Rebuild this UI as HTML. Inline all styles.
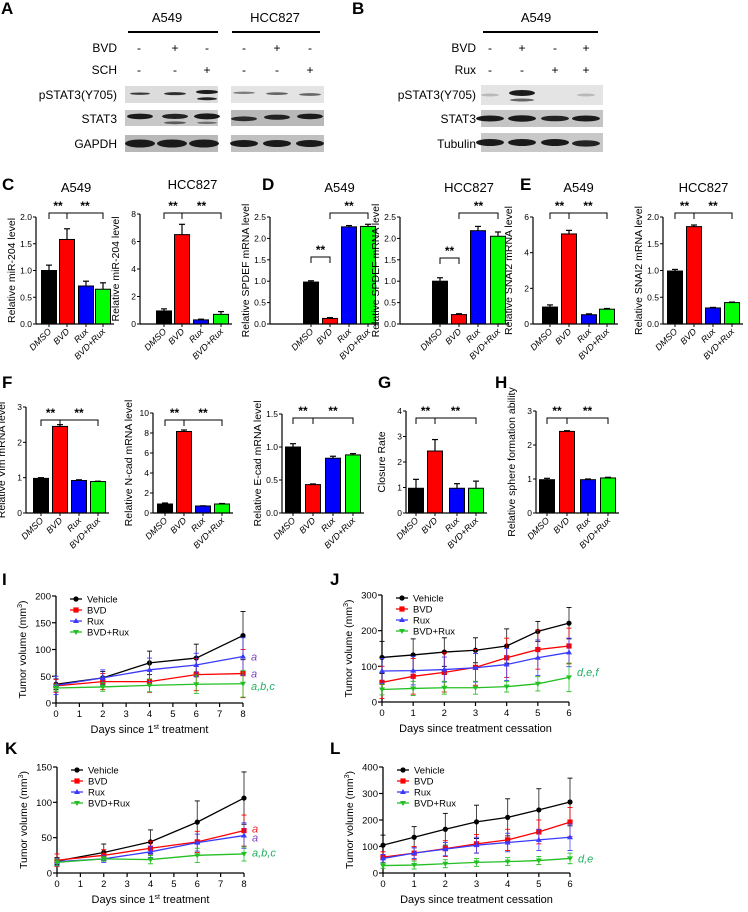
<!DOCTYPE html>
<html><head><meta charset="utf-8">
<style>
html,body{margin:0;padding:0;background:#fff;}
svg{display:block;font-family:"Liberation Sans",Arial,sans-serif;}
</style></head>
<body>
<svg id="fig" width="748" height="912" viewBox="0 0 748 912" xmlns="http://www.w3.org/2000/svg"></svg>
<script>
// ---------- BAR CHART DATA ----------
const barCats = ["DMSO","BVD","Rux","BVD+Rux"];
const c1Vals = [1.0,1.58,0.71,0.65];   const c1Err = [0.1,0.2,0.09,0.12];
const c2Vals = [0.95,6.5,0.3,0.7];     const c2Err = [0.15,0.75,0.05,0.2];
const d1Vals = [0.98,0.13,2.27,2.28];  const d1Err = [0.03,0.02,0.03,0.05];
const d2Vals = [1.0,0.22,2.18,2.05];   const d2Err = [0.08,0.02,0.1,0.1];
const e1Vals = [0.95,5.05,0.52,0.83];  const e1Err = [0.12,0.2,0.05,0.04];
const e2Vals = [0.99,1.82,0.3,0.4];    const e2Err = [0.03,0.03,0.01,0.01];
const f1Vals = [0.98,2.45,0.92,0.89];  const f1Err = [0.02,0.05,0.02,0.01];
const f2Vals = [0.9,8.15,0.7,0.9];     const f2Err = [0.1,0.15,0.02,0.05];
const f3Vals = [1.0,0.43,0.83,0.88];   const f3Err = [0.05,0.01,0.03,0.02];
const gVals = [0.97,2.43,0.97,0.97];   const gErr = [0.35,0.45,0.18,0.28];
const hVals = [0.98,2.4,0.98,1.03];    const hErr = [0.04,0.02,0.02,0.02];
const c1Ticks=["0.0","0.5","1.0","1.5","2.0"], c2Ticks=["0","2","4","6","8"];
const dTicks=["0.0","0.5","1.0","1.5","2.0","2.5"], e1Ticks=["0","2","4","6"], e2Ticks=["0.0","0.5","1.0","1.5","2.0"];
const f1Ticks=["0","1","2","3"], f2Ticks=["0","2","4","6","8","10"], f3Ticks=["0.0","0.5","1.0","1.5"], gTicks=["0","1","2","3","4"], hTicks=["0","1","2","3"];
// ---------- LINE CHART DATA ----------
const seriesNames = ["Vehicle","BVD","Rux","BVD+Rux"];
const daysIK = [0,2,4,6,8];
const daysJL = [0,1,2,3,4,5,6];
const iVeh=[35,47,75,84,126], iVehE=[10,12,22,26,45];
const iBvd=[32,40,40,53,55],  iBvdE=[12,15,20,30,45];
const iRux=[33,47,62,71,87],  iRuxE=[17,15,22,22,35];
const iCom=[28,30,33,35,36],  iComE=[6,8,12,17,25];
const jVeh=[125,132,140,145,157,198,221], jVehE=[45,45,40,35,48,28,44];
const jBvd=[55,72,83,97,124,147,157],     jBvdE=[45,50,55,50,55,55,50];
const jRux=[87,88,91,96,105,124,139],     jRuxE=[35,40,35,40,45,50,40];
const jCom=[35,38,40,40,43,51,69],        jComE=[15,20,18,18,15,20,40];
const kVeh=[17,29,44,72,106], kVehE=[5,12,17,30,37];
const kBvd=[18,25,35,44,60],  kBvdE=[9,8,10,15,22];
const kRux=[16,20,30,43,53],  kRuxE=[5,5,8,12,18];
const kCom=[15,20,19,25,27],  kComE=[5,3,6,10,10];
const lVeh=[105,135,165,193,210,238,268], lVehE=[38,40,60,63,70,80,90];
const lBvd=[60,75,92,110,125,155,192],    lBvdE=[20,25,30,35,40,45,55];
const lRux=[55,75,90,105,115,125,135],    lRuxE=[15,20,25,30,35,40,50];
const lCom=[28,30,35,40,43,47,55],        lComE=[10,15,15,15,15,15,20];
const ikTicks=["0","1","2","3","4","5","6","7","8"];
const jlTicks=["0","1","2","3","4","5","6"];
const iYTicks=["0","50","100","150","200"], jYTicks=["0","100","200","300"];
const kYTicks=["0","50","100","150"], lYTicks=["0","100","200","300","400"];

const NS="http://www.w3.org/2000/svg";
const svg=document.getElementById('fig');
function mk(tag,attrs,parent){const e=document.createElementNS(NS,tag);for(const k in attrs)e.setAttribute(k,attrs[k]);(parent||svg).appendChild(e);return e;}
function txt(s,attrs,parent){const e=mk('text',attrs,parent);e.textContent=s;return e;}
const barColors=["#000","#f00","#00f","#0f0"];
const lineColors=["#000","#f00","#3a3aff","#22c022"];

function panelLabel(s,x,y){const t=txt(s,{x:x,y:y,'font-size':17,'font-weight':'bold'});

}

// ---------- BARS ----------
function barPanel(id,vals,errs,ticks,ax,top,bot,xs,title,ylab,brackets){
  const g=mk('g',{});
  
  
  const ymax=parseFloat(ticks[ticks.length-1]);
  const Y=v=>bot-(v/ymax)*(bot-top);
  const bw=15;
  if(title){const t=txt(title,{x:(xs[0]+xs[3])/2,y:top-25,'font-size':13,'text-anchor':'middle'},g);
    
    }
  const yl=txt(ylab,{transform:`translate(${ax-21},${(top+bot)/2}) rotate(-90)`,'font-size':10.5,'text-anchor':'middle'},g);
  
  
  ticks.forEach(tk=>{const v=parseFloat(tk);const y=Y(v);
    mk('line',{x1:ax-3,x2:ax,y1:y,y2:y,stroke:'#000','stroke-width':1},g);
    const t=txt(tk,{x:ax-4,y:y+3,'font-size':8.5,'text-anchor':'end'},g);
    
    });
  vals.forEach((v,i)=>{
    const x=xs[i];
    const ey=Y(v+errs[i]);
    mk('line',{x1:x,x2:x,y1:Y(v),y2:ey,stroke:'#000','stroke-width':1.2},g);
    mk('line',{x1:x-3,x2:x+3,y1:ey,y2:ey,stroke:'#000','stroke-width':1.2},g);
    const r=mk('rect',{x:x-bw/2,y:Y(v),width:bw,height:bot-Y(v),fill:barColors[i],stroke:'#000','stroke-width':1},g);
    
    
    mk('line',{x1:x,x2:x,y1:bot,y2:bot+3,stroke:'#000','stroke-width':1},g);
    const t=txt(barCats[i],{transform:`translate(${x+3},${bot+8}) rotate(-45)`,'font-size':9,'font-style':'italic','text-anchor':'end'},g);
    
    
  });
  mk('line',{x1:ax,x2:ax,y1:top,y2:bot,stroke:'#000','stroke-width':1.2},g);
  mk('line',{x1:ax,x2:xs[3]+11,y1:bot,y2:bot,stroke:'#000','stroke-width':1.2},g);
  brackets.forEach(b=>{
    const x1=xs[b[0]],x2=xs[b[1]],y=b[2];
    mk('path',{d:`M${x1},${y+6}V${y}H${x2}V${y+6}`,fill:'none',stroke:'#000','stroke-width':1},g);
    const t=txt('**',{x:(x1+x2)/2,y:y-3,'font-size':12,'font-weight':'bold','text-anchor':'middle'},g);
    
    
  });
}
panelLabel('C',2,190);panelLabel('D',262,190);panelLabel('E',520,190);
barPanel('c-a549',c1Vals,c1Err,c1Ticks,36,217,324,[49,67,86,103],'A549','Relative miR-204 level',[[0,1,213],[1,3,213]]);
barPanel('c-hcc827',c2Vals,c2Err,c2Ticks,140,214,324,[164,182,201,221],'HCC827','Relative miR-204 level',[[0,1,213],[1,3,213]]);
barPanel('d-a549',d1Vals,d1Err,dTicks,270,217,324,[311,330,349,368],'A549','Relative SPDEF mRNA level',[[0,1,257],[1,3,213]]);
barPanel('d-hcc827',d2Vals,d2Err,dTicks,400,217,324,[440,459,478,498],'HCC827','Relative SPDEF mRNA level',[[0,1,258],[1,3,213]]);
barPanel('e-a549',e1Vals,e1Err,e1Ticks,533,217,324,[550,569,589,607],'A549','Relative SNAI2 mRNA level',[[0,1,213],[1,3,213]]);
barPanel('e-hcc827',e2Vals,e2Err,e2Ticks,663,217,324,[675,694,713,732],'HCC827','Relative SNAI2 mRNA level',[[0,1,213],[1,3,213]]);
panelLabel('F',2,388);panelLabel('G',378,388);panelLabel('H',495,388);
barPanel('f-vim',f1Vals,f1Err,f1Ticks,26,407,513,[41,60,79,98],null,'Relative Vim mRNA level',[[0,1,420],[1,3,420]]);
barPanel('f-ncad',f2Vals,f2Err,f2Ticks,153,413,513,[165,184,203,222],null,'Relative N-cad mRNA level',[[0,1,420],[1,3,420]]);
barPanel('f-ecad',f3Vals,f3Err,f3Ticks,282,414,513,[293,313,333,353],null,'Relative E-cad mRNA level',[[0,1,418],[1,3,418]]);
barPanel('g-closure',gVals,gErr,gTicks,406,411,513,[416,435,457,476],null,'Closure Rate',[[0,1,418],[1,3,418]]);
barPanel('h-sphere',hVals,hErr,hTicks,536,411,513,[547,567,588,608],null,'Relative sphere formation ability',[[0,1,418],[1,3,418]]);

// ---------- LINES ----------
function marker(i,x,y,g){
  const c=lineColors[i];let m;
  if(i===0)m=mk('circle',{cx:x,cy:y,r:2.6,fill:c},g);
  else if(i===1)m=mk('rect',{x:x-2.6,y:y-2.6,width:5.2,height:5.2,fill:c},g);
  else if(i===2)m=mk('path',{d:`M${x},${y-3}L${x+3},${y+2}L${x-3},${y+2}Z`,fill:c},g);
  else m=mk('path',{d:`M${x},${y+3}L${x+3},${y-2}L${x-3},${y-2}Z`,fill:c},g);
  return m;
}
function linePanel(id,days,series,errs,xTicks,yTicks,x0,x1,y0,y1,xtitle,notes){
  const g=mk('g',{});
  
  
  const xmax=parseFloat(xTicks[xTicks.length-1]), ymax=parseFloat(yTicks[yTicks.length-1]);
  const X=d=>x0+d/xmax*(x1-x0), Y=v=>y0-v/ymax*(y0-y1);
  mk('line',{x1:x0,x2:x0,y1:y1,y2:y0,stroke:'#000','stroke-width':1.3},g);
  mk('line',{x1:x0,x2:x1,y1:y0,y2:y0,stroke:'#000','stroke-width':1.3},g);
  yTicks.forEach(tk=>{const y=Y(parseFloat(tk));
    mk('line',{x1:x0-4,x2:x0,y1:y,y2:y,stroke:'#000','stroke-width':1.2},g);
    const t=txt(tk,{x:x0-5,y:y+3.5,'font-size':9.5,'text-anchor':'end'},g);
    
    });
  xTicks.forEach(tk=>{const x=X(parseFloat(tk));
    mk('line',{x1:x,x2:x,y1:y0,y2:y0+4,stroke:'#000','stroke-width':1.2},g);
    const t=txt(tk,{x:x,y:y0+14,'font-size':9.5,'text-anchor':'middle'},g);
    
    });
  const yt=txt('Tumor volume (mm',{transform:`translate(${x0-30},${(y0+y1)/2}) rotate(-90)`,'font-size':10.5,'text-anchor':'middle'},g);
  const sup=mk('tspan',{dy:-4,'font-size':7},yt);sup.textContent='3';
  const cl=mk('tspan',{dy:4},yt);cl.textContent=')';
  
  
  const xt=txt(xtitle[0],{x:(x0+x1)/2,y:y0+30,'font-size':11,'text-anchor':'middle'},g);
  if(xtitle[1]){const s=mk('tspan',{dy:-4,'font-size':7},xt);s.textContent=xtitle[1];
    const r=mk('tspan',{dy:4},xt);r.textContent=xtitle[2];}
  
  
  series.forEach((vals,i)=>{
    const c=lineColors[i];
    vals.forEach((v,k)=>{const x=X(days[k]);const a=Y(v+errs[i][k]),b=Y(Math.max(0,v-errs[i][k]));
      mk('line',{x1:x,x2:x,y1:a,y2:b,stroke:c,'stroke-width':0.9,opacity:0.8},g);
      mk('line',{x1:x-2.5,x2:x+2.5,y1:a,y2:a,stroke:c,'stroke-width':0.9},g);
      mk('line',{x1:x-2.5,x2:x+2.5,y1:b,y2:b,stroke:c,'stroke-width':0.9},g);});
    const p=mk('polyline',{points:vals.map((v,k)=>X(days[k])+','+Y(v)).join(' '),fill:'none',stroke:c,'stroke-width':1.3},g);
    
    
    vals.forEach((v,k)=>{const m=marker(i,X(days[k]),Y(v),g);
      
      });
  });
  // legend
  seriesNames.forEach((n,i)=>{
    const ly=y1+3+i*11, lx=x0+20;
    const le=mk('g',{},g);
    
    
    mk('line',{x1:lx-6,x2:lx+6,y1:ly,y2:ly,stroke:lineColors[i],'stroke-width':1.3},le);
    marker(i,lx,ly,le);
    txt(n,{x:lx+11,y:ly+3.5,'font-size':9.5},le);
  });
  notes.forEach(nt=>{const t=txt(nt[0],{x:x1+8,y:Y(nt[1])+4,'font-size':11,'font-style':'italic',fill:nt[2]},g);
    
    });
}
panelLabel('I',2,585);panelLabel('J',330,585);panelLabel('K',5,754);panelLabel('L',330,754);
linePanel('i',daysIK,[iVeh,iBvd,iRux,iCom],[iVehE,iBvdE,iRuxE,iComE],ikTicks,iYTicks,56,243,703,596,['Days since 1','st',' treatment'],[['a',iRux[4],'#8040c0'],['a',iBvd[4],'#8040c0'],['a,b,c',iCom[4]-4,'#20b060']]);
linePanel('j',daysJL,[jVeh,jBvd,jRux,jCom],[jVehE,jBvdE,jRuxE,jComE],jlTicks,jYTicks,382,569,702,595,['Days since treatment cessation'],[['d,e,f',jCom[6]+15,'#20b060']]);
linePanel('k',daysIK,[kVeh,kBvd,kRux,kCom],[kVehE,kBvdE,kRuxE,kComE],ikTicks,kYTicks,57,244,873,767,['Days since 1','st',' treatment'],[['a',kBvd[4]+3,'#f02020'],['a',kRux[4]-3,'#8040c0'],['a,b,c',kCom[4]+2,'#20b060']]);
linePanel('l',daysJL,[lVeh,lBvd,lRux,lCom],[lVehE,lBvdE,lRuxE,lComE],jlTicks,lYTicks,383,570,873,767,['Days since treatment cessation'],[['d,e',lCom[6],'#20b060']]);

// ---------- BLOTS ----------
function blot(x,y,w,h,bg,bands,name){
  const g=mk('g',{});
  
  
  mk('rect',{x:x,y:y,width:w,height:h,fill:bg},g);
  bands.forEach(b=>{mk('ellipse',{cx:b[0],cy:y+h*b[1],rx:b[2],ry:b[3],fill:'#111',opacity:b[4]},g);});
}
panelLabel('A',1,14);panelLabel('B',352,14);
function hdr(s,x,y,anchor,size){const t=txt(s,{x:x,y:y,'font-size':size||12,'text-anchor':anchor||'middle'});
  
  }
hdr('A549',167,22,'middle',13);hdr('HCC827',275,22,'middle',13);hdr('A549',536,22,'middle',13);
mk('line',{x1:128,x2:218,y1:32,y2:32,stroke:'#000','stroke-width':2});
mk('line',{x1:232,x2:320,y1:32,y2:32,stroke:'#000','stroke-width':2});
mk('line',{x1:483,x2:598,y1:32,y2:32,stroke:'#000','stroke-width':2});
hdr('BVD',117,52,'end');hdr('SCH',117,74,'end');hdr('BVD',476,52,'end');hdr('Rux',476,74,'end');
const aCols=[139,175,207,244,277,310], bCols=[490,522,555,586];
['-','+','-','-','+','-'].forEach((s,i)=>hdr(s,aCols[i],52));
['-','-','+','-','-','+'].forEach((s,i)=>hdr(s,aCols[i],74));
['-','+','-','+'].forEach((s,i)=>hdr(s,bCols[i],52));
['-','-','+','+'].forEach((s,i)=>hdr(s,bCols[i],74));
hdr('pSTAT3(Y705)',117,99,'end');hdr('STAT3',117,123,'end');hdr('GAPDH',117,148,'end');
hdr('pSTAT3(Y705)',476,99,'end');hdr('STAT3',476,123,'end');hdr('Tubulin',476,148,'end');
blot(125,86,93,17,'#dcdcdc',[[140,0.45,10,1.2,0.8],[175,0.45,11,1.5,0.85],[207,0.35,11,2,0.95],[207,0.75,10,1.5,0.9]],'blot-pstat3-a549');
blot(231,86,93,17,'#e4e4e4',[[244,0.4,11,1.2,0.5],[277,0.45,11,1.4,0.6],[310,0.5,11,1.4,0.6]],'blot-pstat3-hcc827');
blot(125,110,93,16,'#c8c8c8',[[140,0.4,13,2.8,0.95],[175,0.4,13,2.6,0.9],[207,0.4,13,3,0.95],[175,0.8,11,1.4,0.6],[207,0.8,10,1.2,0.5]],'blot-stat3-a549');
blot(231,110,93,16,'#b8b8b8',[[244,0.55,13,2.4,0.85],[277,0.45,13,2.6,0.9],[310,0.4,13,2.8,0.95]],'blot-stat3-hcc827');
blot(125,135,93,17,'#b8b8b8',[[140,0.5,15,4,0.95],[172,0.5,15,4,0.95],[204,0.5,15,4,0.95]],'blot-gapdh-a549');
blot(231,135,93,17,'#c0c0c0',[[244,0.5,14,3.5,0.95],[277,0.5,14,3.5,0.95],[310,0.5,14,3.5,0.95]],'blot-gapdh-hcc827');
blot(481,85,122,20,'#e4e4e4',[[490,0.5,9,1.5,0.2],[522,0.4,13,3,0.95],[522,0.75,12,1.5,0.6],[586,0.5,9,1.5,0.2]],'blot-pstat3-b');
blot(481,110,122,17,'#c4c4c4',[[490,0.5,14,3,0.95],[522,0.5,14,3.2,0.95],[555,0.5,14,2.8,0.9],[586,0.5,14,3,0.95]],'blot-stat3-b');
blot(481,133,122,19,'#c8c8c8',[[490,0.5,14,3.5,0.95],[522,0.5,14,3.5,0.95],[555,0.5,14,3.5,0.95],[586,0.55,14,3.2,0.9]],'blot-tubulin-b');
</script>
</body></html>
